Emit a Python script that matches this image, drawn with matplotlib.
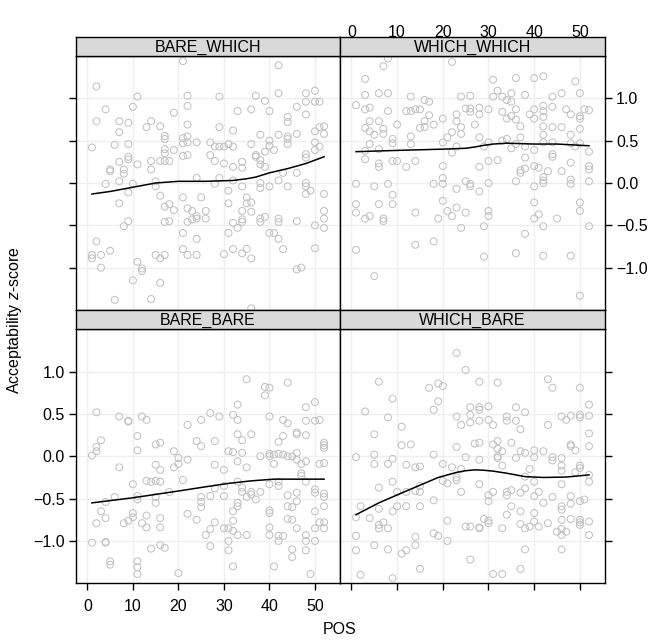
import numpy as np
import matplotlib.pyplot as plt

plt.rcParams['font.family'] = ['Liberation Sans', 'DejaVu Sans']
plt.rcParams['mathtext.fontset'] = 'custom'
plt.rcParams['mathtext.it'] = 'Liberation Sans:italic'
plt.rcParams['mathtext.rm'] = 'Liberation Sans'

x_ticks = [0, 10, 20, 30, 40, 50]
y_ticks = [-1.0, -0.5, 0.0, 0.5, 1.0]

# (POS, z-score), per panel
bare_which = [
    (21, 1.44), (2, 1.14), (11, 1.02), (22, 1.03), (4, 0.87), (10, 0.90), (22, 0.91), (19, 0.83),
    (2, 0.73), (7, 0.73), (9, 0.71), (14, 0.73), (13, 0.66), (16, 0.67), (22, 0.69), (7, 0.60),
    (17, 0.555), (17, 0.52), (21, 0.53), (22, 0.55), (1, 0.42), (6, 0.45), (9, 0.46), (21, 0.47),
    (22, 0.48), (24, 0.48), (17, 0.40), (19, 0.39), (17, 0.35), (21, 0.32), (22, 0.33), (9, 0.31),
    (9, 0.28), (7, 0.25), (11, 0.22), (14, 0.26), (16, 0.26), (17, 0.26), (18, 0.26), (5, 0.16),
    (5, 0.14), (8, 0.16), (8, 0.11), (14, 0.16), (4, -0.01), (7, 0.02), (10, -0.01), (9, -0.11),
    (15, 0.02), (15, -0.04), (24, 0.06), (16, -0.15), (21, -0.17), (25, -0.17), (7, -0.24), (18, -0.25),
    (17, -0.28), (19, -0.32), (22, -0.30), (23, -0.33), (26, -0.33), (24, -0.39), (23, -0.43), (22, -0.46),
    (24, -0.42), (26, -0.42), (17, -0.46), (18, -0.45), (9, -0.45), (8, -0.51), (21, -0.59), (2, -0.69),
    (24, -0.66), (1, -0.85), (1, -0.89), (3, -0.85), (5, -0.80), (3, -1.00), (11, -0.93), (12, -1.01),
    (12, -1.04), (15, -0.85), (16, -0.89), (17, -0.85), (21, -0.78), (22, -0.85), (24, -0.85), (10, -1.15),
    (16, -1.18), (6, -1.38), (14, -1.37),
    (42, 1.39), (29, 1.02), (37, 1.03), (39, 0.97), (42, 1.06), (48, 1.06), (50, 1.09), (48, 0.96),
    (50, 0.96), (51, 0.96), (33, 0.85), (36, 0.87), (40, 0.85), (46, 0.90), (48, 0.81), (44, 0.78),
    (44, 0.72), (29, 0.66), (32, 0.62), (38, 0.57), (42, 0.57), (44, 0.55), (44, 0.52), (46, 0.58),
    (50, 0.61), (51, 0.66), (52, 0.67), (52, 0.58), (27, 0.48), (28, 0.43), (29, 0.43), (30, 0.43),
    (31, 0.46), (32, 0.43), (36, 0.46), (40, 0.50), (40, 0.44), (44, 0.46), (50, 0.48), (51, 0.43),
    (50, 0.39), (39, 0.37), (41, 0.39), (27, 0.33), (28, 0.26), (30, 0.23), (32, 0.19), (34, 0.25),
    (34, 0.18), (37, 0.33), (37, 0.31), (38, 0.27), (38, 0.22), (39, 0.19), (48, 0.34), (48, 0.30),
    (43, 0.12), (46, 0.12), (42, 0.03), (29, 0.06), (28, -0.01), (32, 0.03), (34, -0.04), (38, 0.0),
    (38, -0.06), (40, -0.04), (44, -0.04), (48, 0.0), (48, -0.04), (48, -0.13), (49, -0.09), (52, -0.13),
    (31, -0.09), (31, -0.24), (35, -0.17), (35, -0.24), (36, -0.23), (34, -0.33), (36, -0.34), (32, -0.47),
    (33, -0.53), (34, -0.43), (34, -0.46), (38, -0.42), (38, -0.46), (39, -0.40), (42, -0.42), (42, -0.46),
    (46, -0.45), (50, -0.50), (52, -0.33), (52, -0.42), (52, -0.53), (31, -0.59), (40, -0.59), (41, -0.59),
    (42, -0.66), (43, -0.78), (50, -0.77), (30, -0.84), (32, -0.78), (34, -0.83), (35, -0.78), (36, -0.89),
    (46, -1.02), (47, -1.00), (36, -1.48),
]

which_which = [
    (8, 1.47), (7, 1.38), (22, 1.43), (3, 1.23), (3, 1.04), (6, 1.06), (8, 1.06), (13, 1.02),
    (24, 1.02), (26, 1.03), (1, 0.92), (3, 0.87), (4, 0.89), (8, 0.85), (12, 0.85), (13, 0.85),
    (14, 0.87), (15, 0.87), (16, 0.98), (17, 0.96), (17, 0.80), (25, 0.88), (26, 0.88), (26, 0.84),
    (23, 0.81), (20, 0.76), (23, 0.73), (4, 0.73), (6, 0.73), (3, 0.65), (4, 0.61), (5, 0.57),
    (7, 0.64), (7, 0.58), (10, 0.69), (16, 0.73), (16, 0.66), (15, 0.65), (18, 0.69), (24, 0.66),
    (24, 0.58), (22, 0.60), (21, 0.54), (9, 0.52), (9, 0.47), (13, 0.55), (13, 0.46), (4, 0.46),
    (3, 0.38), (6, 0.40), (20, 0.48), (23, 0.43), (22, 0.36), (3, 0.28), (6, 0.23), (6, 0.19),
    (9, 0.26), (10, 0.26), (12, 0.19), (14, 0.26), (20, 0.20), (20, 0.06), (1, -0.01), (5, -0.04),
    (8, -0.01), (18, -0.01), (20, -0.01), (25, 0.02), (26, -0.01), (26, -0.04), (23, -0.07), (9, -0.14),
    (1, -0.25), (6, -0.25), (9, -0.25), (20, -0.21), (23, -0.29), (21, -0.33), (1, -0.35), (3, -0.42),
    (4, -0.39), (7, -0.42), (7, -0.45), (14, -0.35), (19, -0.42), (22, -0.39), (25, -0.35), (24, -0.53),
    (18, -0.69), (14, -0.73), (1, -0.79), (5, -1.10),
    (31, 1.22), (36, 1.24), (40, 1.24), (42, 1.26), (49, 1.20), (32, 1.09), (31, 1.02), (33, 1.02),
    (34, 0.98), (35, 1.06), (35, 0.96), (38, 1.04), (44, 1.02), (46, 1.06), (50, 1.06), (28, 0.89),
    (28, 0.81), (30, 0.87), (33, 0.84), (34, 0.76), (35, 0.79), (36, 0.87), (36, 0.75), (37, 0.67),
    (39, 0.81), (40, 0.87), (40, 0.76), (42, 0.91), (42, 0.85), (42, 0.78), (44, 0.90), (47, 0.87),
    (48, 0.81), (50, 0.79), (50, 0.76), (51, 0.87), (52, 0.86), (27, 0.69), (42, 0.67), (44, 0.66),
    (46, 0.66), (50, 0.64), (42, 0.57), (48, 0.57), (28, 0.54), (33, 0.50), (34, 0.52), (37, 0.54),
    (29, 0.43), (30, 0.48), (35, 0.41), (36, 0.46), (38, 0.43), (40, 0.39), (42, 0.48), (44, 0.48),
    (48, 0.47), (49, 0.43), (50, 0.47), (52, 0.37), (44, 0.34), (44, 0.31), (38, 0.30), (30, 0.26),
    (32, 0.27), (28, 0.19), (37, 0.15), (37, 0.12), (38, 0.17), (40, 0.20), (41, 0.18), (43, 0.14),
    (46, 0.14), (48, 0.24), (52, 0.20), (52, 0.16), (42, 0.07), (42, 0.03), (42, 0.00), (48, 0.04),
    (48, -0.01), (52, 0.02), (36, 0.02), (30, 0.00), (28, -0.10), (40, -0.04), (40, -0.23), (50, -0.23),
    (50, -0.33), (30, -0.33), (30, -0.39), (29, -0.51), (40, -0.42), (41, -0.37), (42, -0.51), (45, -0.42),
    (52, -0.51), (38, -0.60), (29, -0.87), (36, -0.83), (42, -0.86), (48, -0.86), (50, -1.33),
]

bare_bare = [
    (2, 0.52), (7, 0.47), (9, 0.42), (9, 0.41), (12, 0.47), (13, 0.43), (11, 0.24), (3, 0.19),
    (2, 0.11), (2, 0.06), (1, 0.01), (11, 0.07), (15, 0.14), (16, 0.16), (22, 0.37), (25, 0.43),
    (24, 0.18), (25, 0.12), (19, 0.06), (20, -0.02), (20, -0.09), (22, -0.04), (19, -0.13), (15, -0.10),
    (16, -0.16), (7, -0.13), (10, -0.33), (13, -0.29), (14, -0.30), (15, -0.29), (16, -0.30), (21, -0.28),
    (18, -0.42), (15, -0.48), (15, -0.55), (11, -0.47), (11, -0.51), (6, -0.48), (4, -0.54), (25, -0.48),
    (25, -0.54), (25, -0.60), (3, -0.65), (4, -0.73), (2, -0.79), (8, -0.79), (9, -0.76), (10, -0.72),
    (10, -0.67), (12, -0.79), (13, -0.70), (13, -0.84), (16, -0.73), (16, -0.84), (22, -0.68), (24, -0.75),
    (26, -0.93), (1, -1.02), (4, -1.01), (4, -1.02), (14, -1.09), (16, -1.05), (17, -1.08), (5, -1.24),
    (5, -1.28), (11, -1.24), (11, -1.31), (11, -1.39), (20, -1.38),
    (35, 0.91), (39, 0.82), (40, 0.81), (39, 0.72), (44, 0.87), (33, 0.61), (27, 0.51), (29, 0.47),
    (32, 0.49), (33, 0.43), (40, 0.47), (43, 0.43), (44, 0.39), (48, 0.58), (50, 0.64), (48, 0.42),
    (50, 0.42), (51, 0.43), (46, 0.28), (46, 0.26), (48, 0.25), (33, 0.26), (36, 0.26), (34, 0.19),
    (28, 0.18), (43, 0.24), (42, 0.17), (52, 0.16), (52, 0.13), (52, 0.10), (31, 0.06), (32, 0.05),
    (34, 0.04), (38, 0.0), (40, 0.03), (40, 0.0), (41, 0.02), (42, 0.03), (43, 0.02), (44, 0.0),
    (45, 0.0), (46, 0.04), (46, -0.04), (47, -0.09), (48, -0.06), (51, -0.09), (52, -0.08), (33, -0.06),
    (35, -0.13), (41, -0.09), (28, -0.10), (30, -0.16), (47, -0.20), (47, -0.23), (33, -0.30), (42, -0.30),
    (42, -0.35), (40, -0.33), (48, -0.30), (28, -0.38), (30, -0.35), (34, -0.37), (34, -0.42), (36, -0.42),
    (36, -0.45), (38, -0.42), (35, -0.48), (37, -0.51), (27, -0.47), (30, -0.47), (44, -0.46), (46, -0.43),
    (46, -0.53), (50, -0.39), (50, -0.43), (52, -0.44), (52, -0.48), (33, -0.55), (33, -0.59), (32, -0.65),
    (40, -0.64), (40, -0.67), (44, -0.59), (45, -0.60), (52, -0.59), (50, -0.65), (28, -0.78), (32, -0.76),
    (30, -0.85), (31, -0.85), (32, -0.88), (33, -0.93), (35, -0.93), (27, -0.86), (40, -0.84), (40, -0.93),
    (42, -0.94), (43, -0.94), (42, -1.0), (44, -0.74), (45, -0.75), (46, -0.85), (48, -0.93), (48, -1.0),
    (50, -0.85), (50, -1.0), (51, -0.78), (52, -0.78), (52, -0.85), (31, -1.0), (31, -1.11), (27, -1.06),
    (45, -1.10), (45, -1.19), (48, -1.11), (32, -1.30), (41, -1.30), (49, -1.39),
]

which_bare = [
    (23, 1.22), (25, 1.02), (6, 0.88), (17, 0.81), (19, 0.86), (20, 0.83), (9, 0.68), (19, 0.65),
    (18, 0.55), (3, 0.53), (8, 0.46), (23, 0.47), (24, 0.37), (26, 0.58), (26, 0.49), (26, 0.40),
    (11, 0.35), (5, 0.26), (11, 0.13), (13, 0.14), (23, 0.11), (1, -0.01), (5, 0.02), (5, -0.09),
    (8, -0.09), (9, -0.03), (12, -0.10), (14, -0.13), (15, -0.12), (18, 0.02), (20, -0.09), (22, -0.13),
    (24, -0.15), (25, -0.01), (23, -0.25), (23, -0.28), (20, -0.29), (21, -0.32), (24, -0.42), (9, -0.30),
    (6, -0.37), (10, -0.42), (12, -0.42), (15, -0.35), (14, -0.41), (15, -0.42), (18, -0.52), (2, -0.59),
    (1, -0.72), (4, -0.73), (6, -0.62), (9, -0.65), (10, -0.59), (12, -0.59), (15, -0.59), (6, -0.81),
    (6, -0.85), (7, -0.78), (8, -0.85), (21, -0.76), (25, -0.83), (26, -0.83), (1, -0.94), (14, -0.95),
    (18, -0.91), (19, -0.94), (21, -1.0), (5, -1.05), (8, -1.10), (11, -1.15), (12, -1.11), (14, -1.05),
    (1, -1.11), (26, -1.22), (15, -1.33), (2, -1.40), (9, -1.44),
    (28, 0.88), (32, 0.87), (43, 0.91), (44, 0.81), (50, 0.81), (28, 0.58), (28, 0.55), (30, 0.59),
    (36, 0.58), (38, 0.52), (34, 0.47), (34, 0.42), (36, 0.42), (37, 0.32), (28, 0.42), (30, 0.43),
    (31, 0.37), (43, 0.37), (46, 0.47), (47, 0.43), (48, 0.48), (50, 0.49), (50, 0.46), (52, 0.48),
    (52, 0.61), (52, 0.27), (52, 0.12), (27, 0.15), (28, 0.16), (31, 0.14), (32, 0.18), (32, 0.09),
    (33, 0.06), (32, 0.0), (32, -0.02), (35, 0.16), (37, 0.06), (36, -0.02), (38, 0.04), (40, 0.07),
    (40, -0.01), (42, 0.06), (44, -0.01), (44, -0.05), (46, -0.02), (46, -0.11), (46, -0.17), (48, 0.14),
    (48, 0.12), (49, 0.07), (28, -0.04), (33, -0.11), (39, -0.15), (38, -0.24), (40, -0.30), (50, -0.11),
    (50, -0.14), (49, -0.19), (52, -0.22), (52, -0.30), (28, -0.33), (46, -0.33), (31, -0.42), (30, -0.46),
    (30, -0.53), (34, -0.42), (34, -0.46), (35, -0.40), (37, -0.43), (38, -0.38), (40, -0.47), (41, -0.42),
    (42, -0.55), (44, -0.48), (48, -0.47), (48, -0.56), (50, -0.53), (51, -0.51), (46, -0.59), (46, -0.63),
    (35, -0.59), (37, -0.65), (40, -0.67), (34, -0.69), (29, -0.74), (30, -0.76), (30, -0.79), (28, -0.84),
    (28, -0.85), (33, -0.85), (37, -0.80), (38, -0.85), (39, -0.83), (40, -0.77), (41, -0.83), (43, -0.79),
    (45, -0.89), (46, -0.75), (46, -0.86), (46, -0.93), (47, -0.89), (48, -0.74), (50, -0.75), (50, -0.78),
    (50, -0.81), (52, -0.77), (52, -0.93), (38, -1.10), (46, -1.10), (37, -1.33), (31, -1.39), (33, -1.39),
]

# smoother curves
bw_smooth_x = [1, 5, 10, 15, 20, 26, 32, 35, 37, 40, 44, 48, 52]
bw_smooth_y = [-0.13, -0.10, -0.05, 0.0, 0.02, 0.02, 0.03, 0.05, 0.07, 0.12, 0.17, 0.23, 0.31]
ww_smooth_x = [1, 10, 20, 25, 27, 29, 31, 34, 40, 45, 52]
ww_smooth_y = [0.37, 0.385, 0.40, 0.41, 0.425, 0.445, 0.46, 0.47, 0.46, 0.46, 0.44]
bb_smooth_x = [1, 10, 20, 26, 31, 36, 41, 46, 52]
bb_smooth_y = [-0.55, -0.49, -0.41, -0.36, -0.32, -0.29, -0.27, -0.27, -0.27]
wb_smooth_x = [1, 6, 12, 19, 23, 25, 27, 29, 31, 34, 38, 42, 47, 52]
wb_smooth_y = [-0.69, -0.55, -0.41, -0.25, -0.19, -0.17, -0.16, -0.165, -0.175, -0.20, -0.24, -0.25, -0.245, -0.22]

W, H = 655, 641
fig = plt.figure(figsize=(W / 100, H / 100), dpi=100)

# panel boxes in pixels: left, top, right, bottom
panels = [
    ('BARE_WHICH', bare_which, bw_smooth_x, bw_smooth_y, (76, 56, 340, 310)),
    ('WHICH_WHICH', which_which, ww_smooth_x, ww_smooth_y, (340, 56, 605, 310)),
    ('BARE_BARE', bare_bare, bb_smooth_x, bb_smooth_y, (76, 329.3, 340, 583.3)),
    ('WHICH_BARE', which_bare, wb_smooth_x, wb_smooth_y, (340, 329.3, 605, 583.3)),
]
strip_h = 19.3
fs = 11.5

for i, (name, pts, sx, sy, (l, t, r, b)) in enumerate(panels):
    ax = fig.add_axes([l / W, 1 - b / H, (r - l) / W, (b - t) / H])
    pts = np.array(pts)
    for xv in x_ticks:
        ax.axvline(xv, color='#EFEFEF', lw=1, zorder=0)
    for yv in y_ticks:
        ax.axhline(yv, color='#EFEFEF', lw=1, zorder=0)
    ax.scatter(pts[:, 0], pts[:, 1], s=25, facecolors='none', edgecolors='#C2C2C2', linewidths=0.75, zorder=2)
    ax.plot(sx, sy, color='black', lw=1.1, zorder=3)
    ax.set_xlim(-2.5, 55.5)
    ax.set_ylim(-1.5, 1.5)
    ax.set_xticks(x_ticks)
    ax.set_yticks(y_ticks)
    for sp in ax.spines.values():
        sp.set_linewidth(1)
    top_row = i < 2
    left_col = i % 2 == 0
    ax.tick_params(direction='out', length=5, width=1, labelsize=fs, colors='black',
                   top=top_row, bottom=not top_row, left=left_col, right=not left_col,
                   labeltop=(i == 1), labelbottom=(i == 2), labelleft=(i == 2), labelright=(i == 1))
    ax.tick_params(axis='x', pad=6.5)
    ax.tick_params(axis='y', pad=3)

    sax = fig.add_axes([l / W, 1 - t / H, (r - l) / W, strip_h / H])
    sax.set_facecolor('#D9D9D9')
    sax.set_xticks([])
    sax.set_yticks([])
    for sp in sax.spines.values():
        sp.set_linewidth(1)
    sax.text(0.5, 0.45, name, ha='center', va='center', fontsize=fs, transform=sax.transAxes)

fig.text(15 / W, 1 - 320 / H, 'Acceptability $z$-score', rotation=90, ha='center', va='center', fontsize=fs)
fig.text(340 / W, 1 - 630 / H, 'POS', ha='center', va='center', fontsize=fs)

fig.savefig('out.png', dpi=100)
